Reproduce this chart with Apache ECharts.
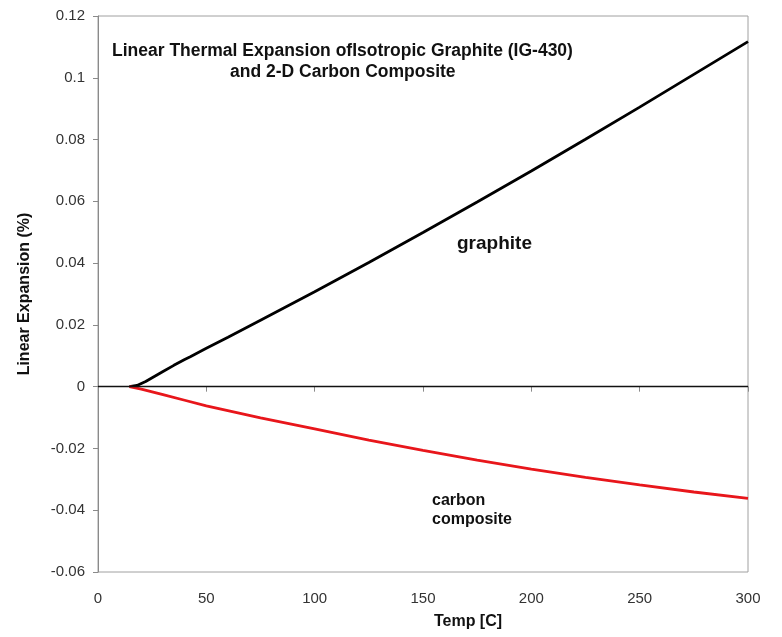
<!DOCTYPE html>
<html>
<head>
<meta charset="utf-8">
<script src="https://cdn.jsdelivr.net/npm/echarts@6/dist/echarts.min.js"></script>
<style>
  html, body { margin: 0; padding: 0; background: #fff; }
  #main { width: 782px; height: 637px; }
</style>
</head>
<body>
<div id="main"></div>
<script>
// values: temperature [C] and linear expansion [%]
var graphiteTemp = [14.5, 18, 22, 26, 30, 35, 40, 42.6, 43.0, 43.4, 45, 50, 60, 75, 100, 125, 150, 175, 200, 225, 250, 275, 300];
var graphiteExp = [0, 0.0004, 0.0017, 0.0033, 0.0049, 0.0069, 0.0088, 0.0097, 0.0102, 0.0099, 0.0106, 0.0124, 0.0160, 0.0215, 0.0307, 0.0402, 0.0499, 0.0598, 0.0698, 0.0801, 0.0905, 0.1011, 0.1117];

var compositeTemp = [14.5, 20, 30, 40, 50, 75, 100, 125, 150, 175, 200, 225, 250, 275, 300];
var compositeExp = [0, -0.0008, -0.0026, -0.0044, -0.0062, -0.0101, -0.0137, -0.0173, -0.0206, -0.0238, -0.0267, -0.0294, -0.0318, -0.0341, -0.0362];

var xTicks = { min: 0, max: 300, interval: 50 };
var yTicks = { min: -0.06, max: 0.12, interval: 0.02 };

function pairs(xs, ys) {
  return xs.map(function (x, i) { return [x, ys[i]]; });
}

var font = 'Arial, "Liberation Sans", sans-serif';
var axisGray = '#8a8a8a';

var myChart = echarts.init(document.getElementById('main'));

var option = {
  backgroundColor: '#fff',
  animation: false,
  title: [
    {
      text: 'Linear Thermal Expansion ofIsotropic Graphite (IG-430)',
      left: 112, top: 42, padding: 0,
      textStyle: { fontFamily: font, fontSize: 17.5, fontWeight: 'bold', color: '#111' }
    },
    {
      text: 'and 2-D Carbon Composite',
      left: 230, top: 63, padding: 0,
      textStyle: { fontFamily: font, fontSize: 17.5, fontWeight: 'bold', color: '#111' }
    }
  ],
  grid: {
    left: 98, right: 34, top: 16, bottom: 65,
    containLabel: false,
    outerBoundsMode: 'none',
    show: true,
    borderColor: '#a0a0a0',
    borderWidth: 1
  },
  xAxis: {
    type: 'value',
    min: xTicks.min, max: xTicks.max, interval: xTicks.interval,
    name: 'Temp [C]',
    nameLocation: 'middle',
    nameGap: 42,
    nameTextStyle: { fontFamily: font, fontSize: 16, fontWeight: 'bold', color: '#111', padding: [0, 0, 0, 90] },
    axisLine: { lineStyle: { color: axisGray, width: 1 } },
    axisTick: { show: true, inside: false, length: 5, lineStyle: { color: axisGray } },
    axisLabel: { fontFamily: font, fontSize: 15, color: '#333', margin: 19 },
    splitLine: { show: false }
  },
  yAxis: {
    type: 'value',
    min: yTicks.min, max: yTicks.max, interval: yTicks.interval,
    name: 'Linear Expansion (%)',
    nameLocation: 'middle',
    nameGap: 65,
    nameTextStyle: { fontFamily: font, fontSize: 16, fontWeight: 'bold', color: '#111' },
    axisLine: { onZero: false, lineStyle: { color: axisGray, width: 1 } },
    axisTick: { show: true, inside: false, length: 5, lineStyle: { color: axisGray } },
    axisLabel: { fontFamily: font, fontSize: 15, color: '#333', margin: 13 },
    splitLine: { show: false }
  },
  series: [
    {
      name: 'graphite',
      type: 'line',
      data: pairs(graphiteTemp, graphiteExp),
      showSymbol: false,
      lineStyle: { color: '#000', width: 2.8 },
      z: 3,
      markLine: {
        silent: true,
        symbol: 'none',
        label: { show: false },
        lineStyle: { color: '#111', width: 1.4, type: 'solid' },
        data: [{ yAxis: 0 }]
      }
    },
    {
      name: 'carbon composite',
      type: 'line',
      data: pairs(compositeTemp, compositeExp),
      showSymbol: false,
      lineStyle: { color: '#e8161b', width: 2.8 },
      z: 4
    }
  ],
  graphic: [
    {
      type: 'text', left: 457, top: 234,
      style: { text: 'graphite', font: 'bold 19px ' + font, fill: '#111' }
    },
    {
      type: 'text', left: 432, top: 491,
      style: { text: 'carbon\ncomposite', font: 'bold 16px ' + font, fill: '#111', lineHeight: 19 }
    }
  ]
};

myChart.setOption(option);
</script>
</body>
</html>
